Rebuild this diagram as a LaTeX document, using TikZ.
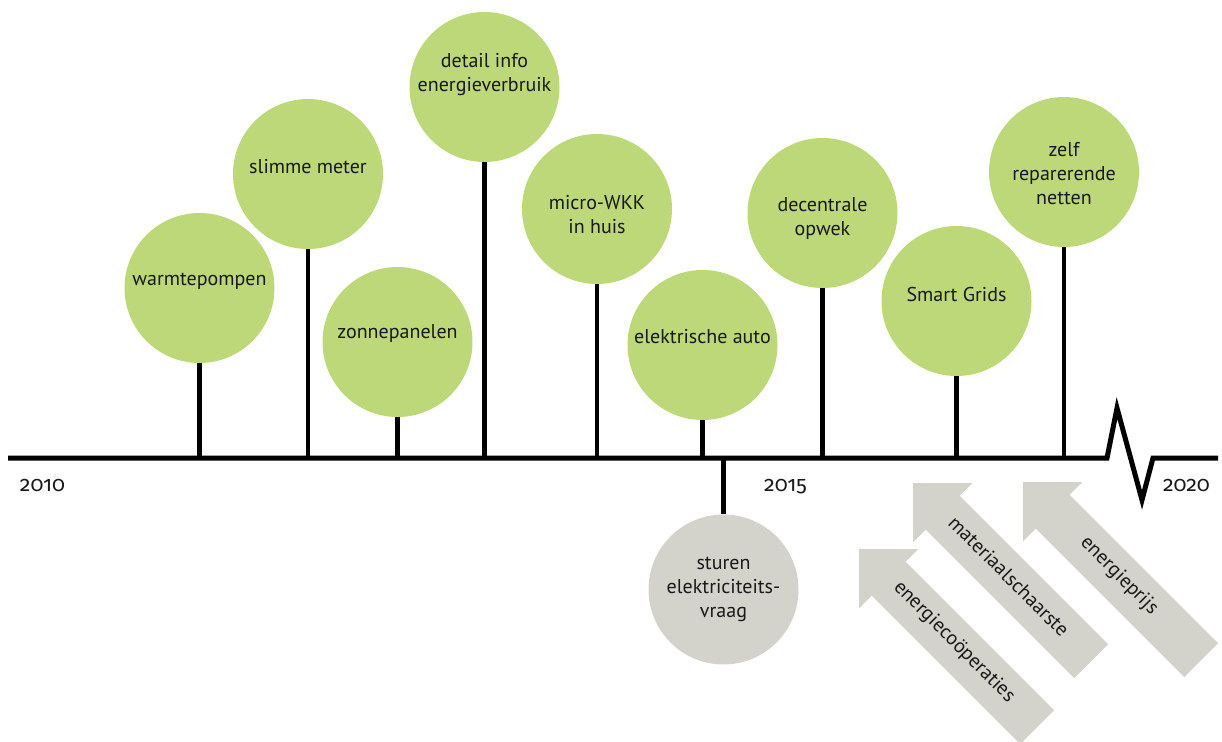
\documentclass[tikz,border=0pt]{standalone}
\usepackage{fontspec}
\setmainfont{PT Sans}
\newfontfamily\yearfont[Numbers=OldStyle]{Fira Sans}
\definecolor{bubblegreen}{RGB}{189,216,121}
\definecolor{trendgrey}{RGB}{211,211,204}
\definecolor{inkdark}{RGB}{25,25,25}

\begin{document}
\begin{tikzpicture}[x=0.75pt,y=0.75pt,yscale=-1,xscale=1,
  bubble/.style={circle,fill=bubblegreen,minimum size=112.5pt,inner sep=0pt},
  greybubble/.style={bubble,fill=trendgrey},
  lbl/.style={align=center,inner sep=0.75pt,text=inkdark,font=\fontsize{15}{18}\selectfont},
  trendlbl/.style={lbl,rotate=-45},
  year/.style={inner sep=0.75pt,text=inkdark,font=\yearfont\fontsize{16}{18}\selectfont},
  stem/.style={line width=3.5pt},
  axisline/.style={line width=3.75pt},
  trend/.style={fill=trendgrey}]
\clip (0,0) rectangle (1222,742);

%Axis with break
\coordinate (ax0) at (8,458);
\coordinate (brk) at (1107,458);
\coordinate (ax1) at (1218,458);

%Circles
\node[bubble] (warmte) at (199.5,288) {};
\node[bubble] (slimme) at (308,174) {};
\node[bubble] (zonne) at (397.5,342) {};
\node[bubble] (detail) at (484.5,87) {};
\node[bubble] (wkk) at (597,209) {};
\node[bubble] (auto) at (702.5,345) {};
\node[bubble] (opwek) at (822.5,213) {};
\node[bubble] (smart) at (956.5,301) {};
\node[bubble] (zelf) at (1064,172) {};
\node[greybubble] (sturen) at (723.5,589.5) {};

%Stems
\foreach \b in {warmte,slimme,zonne,detail,wkk,auto,opwek,smart,zelf}
  \draw[stem] (\b.south) -- (\b.south |- ax0);
\draw[stem] (sturen.north) -- (sturen.north |- ax0);

\draw[axisline] (ax0) -- (brk) -- ++(10,-50) -- ++(25,92) -- ++(11,-42) -- (ax1);

%Trend arrows
\fill[trend] (859,549) -- ++(59.4,0) -- ++(-12.73,12.73) -- ++(148.5,148.5) -- ++(-33.94,33.94) -- ++(-148.5,-148.5) -- ++(-12.73,12.73) -- cycle;
\fill[trend] (913,483) -- ++(59.4,0) -- ++(-12.73,12.73) -- ++(148.5,148.5) -- ++(-33.94,33.94) -- ++(-148.5,-148.5) -- ++(-12.73,12.73) -- cycle;
\fill[trend] (1023,482) -- ++(59.4,0) -- ++(-12.73,12.73) -- ++(148.5,148.5) -- ++(-33.94,33.94) -- ++(-148.5,-148.5) -- ++(-12.73,12.73) -- cycle;

% Text Node
\node[lbl] (warmteT) at (199.5,281) {warmtepompen};
\node[lbl] (slimmeT) at (308,167) {slimme meter};
\node[lbl] (zonneT) at (397.5,333) {zonnepanelen};
\node[lbl] (detailT) at (484.5,75) {detail info\\energieverbruik};
\node[lbl] (wkkT) at (597,214.5) {micro-WKK\\in huis};
\node[lbl] (autoT) at (702.5,337) {elektrische auto};
\node[lbl] (opwekT) at (822.5,218) {decentrale\\opwek};
\node[lbl] (smartT) at (956.5,294) {Smart Grids};
\node[lbl] (zelfT) at (1064,174) {zelf\\reparerende\\netten};
\node[lbl] (sturenT) at (723.5,589.5) {sturen\\elektriciteits-\\vraag};
% Text Node
\node[trendlbl] (coopT) at (954,642) {energiecoöperaties};
\node[trendlbl] (schaarsT) at (1009,576) {materiaalschaarste};
\node[trendlbl] (prijsT) at (1119,576) {energieprijs};
% Text Node
\node[year] (y2010) at (42.5,486) {2010};
\node[year] (y2015) at (785.5,487) {2015};
\node[year] (y2020) at (1186.5,486) {2020};

\end{tikzpicture}
\end{document}
